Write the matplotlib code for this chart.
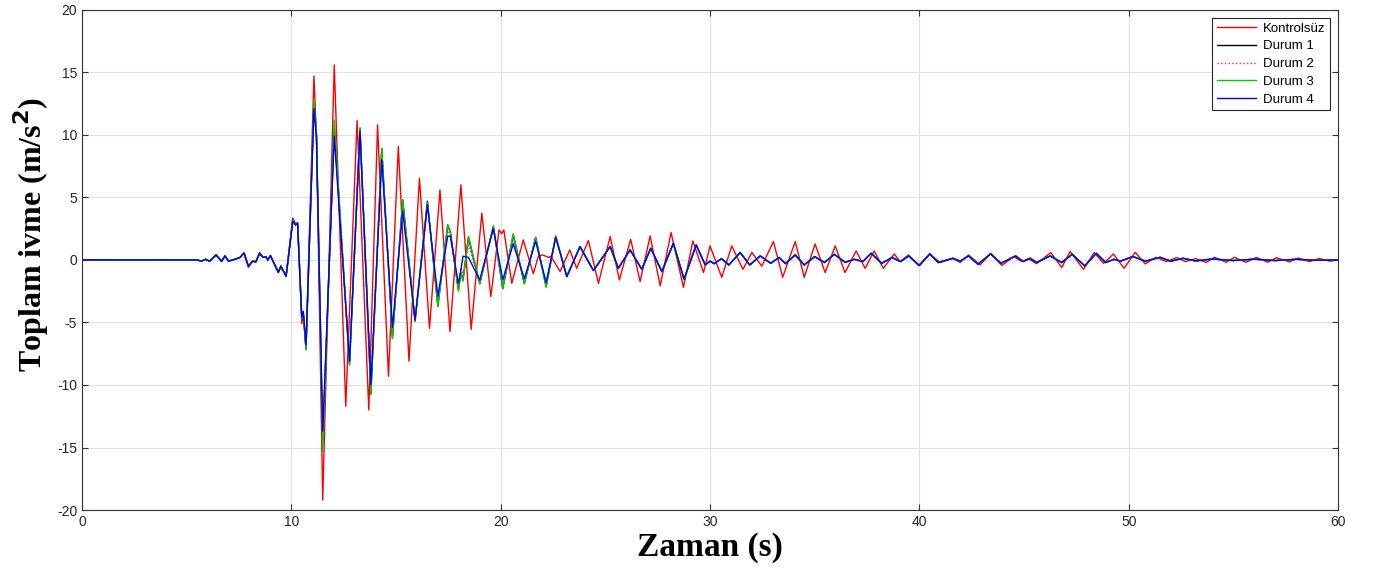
import numpy as np
import matplotlib.pyplot as plt

plt.rcParams['axes.unicode_minus'] = False

# Kontrolsüz (red) - extrema
t_red = [0, 5.5, 5.7, 5.9, 6.1, 6.4, 6.67, 6.83, 7.0, 7.3, 7.55, 7.74, 7.95, 8.15, 8.3, 8.48, 8.65, 8.78, 8.88, 9.0,
         9.38, 9.5, 9.75, 10.07, 10.2, 10.3, 10.5, 10.57, 10.7, 11.08, 11.2, 11.5, 12.05, 12.6, 13.14, 13.7, 14.12,
         14.64, 15.11, 15.62, 16.12, 16.6, 17.1, 17.58, 18.1, 18.59, 19.1, 19.53, 19.92, 20.05, 20.15, 20.53, 21.08,
         21.56, 21.8, 22.0, 22.3, 22.4, 22.84, 23.3, 23.63, 24.19, 24.67, 25.23, 25.67, 26.21, 26.66, 27.14, 27.62,
         28.14, 28.73, 29.18, 29.69, 30.0, 30.56, 31.04, 31.57, 32.0, 32.47, 33.03, 33.47, 34.07, 34.5, 35.02, 35.5,
         35.98, 36.45, 36.98, 37.41, 37.84, 38.28, 38.8, 39.08, 39.48, 39.96, 40.48, 41.0, 41.6, 41.95, 42.35, 42.9,
         43.42, 43.94, 44.5, 44.9, 45.2, 45.6, 46.28, 46.8, 47.2, 47.84, 48.35, 48.8, 49.27, 49.78, 50.31, 50.79,
         51.3, 51.8, 52.3, 52.7, 53.2, 53.7, 54.1, 54.65, 55.05, 55.6, 56.1, 56.64, 57.06, 57.68, 58.1, 58.64, 59.1,
         59.6, 60]
v_red = [0, 0, -0.1, 0.05, -0.1, 0.4, -0.15, 0.32, -0.1, 0.05, 0.2, 0.55, -0.6, -0.1, -0.2, 0.6, 0.2, 0.25, 0.0, 0.35,
         -1.0, -0.5, -1.3, 3.35, 2.9, 3.0, -5.1, -4.3, -7.1, 14.7, 10.0, -19.2, 15.6, -11.7, 11.15, -12.0, 10.8,
         -9.3, 9.07, -8.1, 6.53, -5.47, 5.6, -5.73, 6.0, -5.55, 3.73, -2.93, 2.4, 2.1, 2.4, -1.87, 1.6,
         -1.1, 0.3, 0.4, 0.2, 0.3, -0.93, 0.8, -0.67, 1.55, -1.87, 1.87, -1.6, 1.65, -1.73, 1.92, -2.08,
         2.19, -2.19, 1.52, -1.01, 1.12, -1.39, 1.12, -0.75, 0.6, -0.5, 1.47, -1.39, 1.47, -1.39, 1.28, -1.01,
         1.12, -1.01, 0.72, -0.67, 0.72, -0.67, 0.48, -0.13, 0.4, -0.45, 0.48, -0.21, 0.13, -0.2, 0.4, -0.4,
         0.53, -0.45, 0.27, -0.13, 0.1, -0.3, 0.59, -0.61, 0.67, -0.75, 0.59, -0.27, 0.48, -0.67, 0.61, -0.32,
         0.21, -0.13, 0.19, -0.13, 0.1, -0.2, 0.21, -0.19, 0.21, -0.19, 0.2, -0.18, 0.18, -0.16, 0.15, -0.14, 0.12,
         -0.1, 0]

# controlled cases: common quiet start
t_pre = [0, 5.5, 5.7, 5.9, 6.1, 6.4, 6.67, 6.83, 7.0, 7.3, 7.55, 7.74, 7.95, 8.15, 8.3, 8.48, 8.65, 8.78, 8.88, 9.0,
         9.38, 9.5, 9.75]
v_pre = [0, 0, -0.1, 0.05, -0.1, 0.4, -0.1, 0.32, -0.1, 0.05, 0.2, 0.55, -0.5, -0.1, -0.15, 0.5, 0.2, 0.25, 0.0, 0.35,
         -1.0, -0.5, -1.3]

# strong-motion part, one value list per case
t_burst = [10.07, 10.2, 10.3, 10.5, 10.57, 10.7, 11.08, 11.2, 11.5, 12.05, 12.78, 13.28, 13.8, 14.32, 14.83, 15.32,
           15.91, 16.5, 17.0, 17.47, 17.6, 17.98, 18.1, 18.2, 18.46, 19.0, 19.65, 20.1, 20.6, 21.13, 21.67, 22.17,
           22.63]
v_d1 = [3.2, 2.8, 2.9, -4.7, -4.2, -7.1, 12.5, 10.0, -14.5, 10.5, -8.3, 10.5, -10.7, 8.9, -6.2, 4.8,
        -4.9, 4.7, -3.7, 2.8, 2.2, -2.4, -1.0, -1.6, 1.8, -1.9, 2.7, -2.3, 2.0, -1.9, 1.8, -2.1,
        1.9]
v_d2 = [3.2, 2.8, 2.9, -4.6, -4.2, -7.0, 12.3, 10.0, -15.0, 11.0, -8.2, 10.4, -10.5, 8.7, -6.0, 4.6,
        -4.8, 4.5, -3.5, 2.5, 1.8, -2.2, -0.6, -1.2, 1.2, -1.8, 2.6, -2.2, 1.9, -1.8, 1.7, -2.0,
        1.8]
v_d3 = [3.2, 2.8, 2.9, -4.7, -4.3, -7.2, 12.8, 10.2, -15.3, 11.2, -8.4, 10.6, -10.8, 8.9, -6.3, 4.8,
        -4.9, 4.6, -3.7, 2.8, 2.2, -2.5, -1.0, -1.7, 1.9, -1.9, 2.7, -2.3, 2.1, -1.9, 1.8, -2.2,
        1.9]
v_d4 = [3.1, 2.8, 2.9, -4.6, -4.1, -6.8, 12.1, 9.8, -13.7, 9.9, -8.1, 10.3, -10.0, 8.0, -5.4, 3.9,
        -4.8, 4.4, -2.9, 1.9, 1.9, -1.9, -0.8, 0.3, 0.2, -1.6, 2.5, -1.6, 1.3, -1.5, 1.5, -1.8,
        1.8]

# common decaying tail
t_post = [23.16, 23.79, 24.43, 25.23, 25.62, 26.18, 26.74, 27.17, 27.7, 28.25, 28.76, 29.34, 29.77, 30.0, 30.2, 30.55,
          30.9, 31.44, 31.9, 32.4, 32.9, 33.3, 33.6, 34.07, 34.5, 35.0, 35.46, 35.94, 36.45, 36.9, 37.3, 37.7, 38.2,
          38.7, 39.1, 39.5, 40.0, 40.5, 40.9, 41.6, 41.95, 42.35, 42.8, 43.4, 43.9, 44.6, 44.95, 45.3, 45.6, 46.25,
          46.8, 47.3, 47.9, 48.45, 48.9, 49.3, 49.6, 50.2, 50.8, 51.5, 52.0, 52.6, 53.2, 54, 55, 56, 57, 58, 59, 60]
v_post = [-1.33, 1.07, -0.85, 1.07, -0.67, 0.8, -0.75, 0.93, -0.93, 1.33, -1.55, 1.2, -0.4, -0.1, -0.3, 0.1,
          -0.4, 0.59, -0.4, 0.32, -0.27, 0.2, -0.3, 0.4, -0.4, 0.27, -0.21, 0.45, -0.19, 0.05, -0.13, 0.53, -0.27,
          0.19, -0.13, 0.32, -0.45, 0.48, -0.21, 0.13, -0.1, 0.32, -0.35, 0.48, -0.27, 0.32, -0.13, 0.13, -0.21, 0.32,
          -0.21, 0.45, -0.48, 0.53, -0.21, 0.05, -0.1, 0.27, -0.1, 0.21, -0.1, 0.13, -0.08, 0.08, -0.05, 0.06, -0.05,
          0.05, -0.03, 0]

labels = ['Kontrolsüz', 'Durum 1', 'Durum 2', 'Durum 3', 'Durum 4']

t_ctrl = t_pre + t_burst + t_post

fig = plt.figure(figsize=(13.78, 5.78), dpi=100)
ax = fig.add_axes([0.0595, 0.1176, 0.9115, 0.8654])

ax.plot(t_red, v_red, color='red', lw=1.0, label=labels[0])
ax.plot(t_ctrl, v_pre + v_d1 + v_post, color='black', lw=1.0, label=labels[1])
ax.plot(t_ctrl, v_pre + v_d2 + v_post, color='magenta', lw=1.0, ls=':', label=labels[2])
ax.plot(t_ctrl, v_pre + v_d3 + v_post, color='#00cc00', lw=1.0, label=labels[3])
ax.plot(t_ctrl, v_pre + v_d4 + v_post, color='blue', lw=1.0, label=labels[4])

ax.set_xlim(0, 60)
ax.set_ylim(-20, 20)
ax.set_xticks(np.arange(0, 61, 10))
ax.set_yticks(np.arange(-20, 21, 5))
ax.grid(True, color='#e0e0e0', lw=0.8)
ax.set_axisbelow(True)
ax.tick_params(direction='in', top=True, right=True, labelsize=10, length=4, color='#333333', labelcolor='#262626')
for s in ax.spines.values():
    s.set_color('#333333')
    s.set_linewidth(0.8)
for lab in ax.get_xticklabels() + ax.get_yticklabels():
    lab.set_family('Liberation Sans')

ax.set_xlabel('Zaman (s)', family='Liberation Serif', weight='bold', fontsize=24, labelpad=2)
ax.set_ylabel('Toplam ivme (m/s$^\\mathbf{2}$)', family='Liberation Serif', weight='bold', fontsize=23, labelpad=0)
ax.yaxis.set_label_coords(-0.025, 0.55)

leg = ax.legend(loc='upper right', prop={'family': 'Liberation Sans', 'size': 9.5}, fancybox=False,
                framealpha=1, edgecolor='#262626', handlelength=3.0, borderpad=0.35, labelspacing=0.42,
                borderaxespad=0.6, handletextpad=0.5)
leg.get_frame().set_linewidth(0.8)

fig.savefig('out.png', dpi=100)
